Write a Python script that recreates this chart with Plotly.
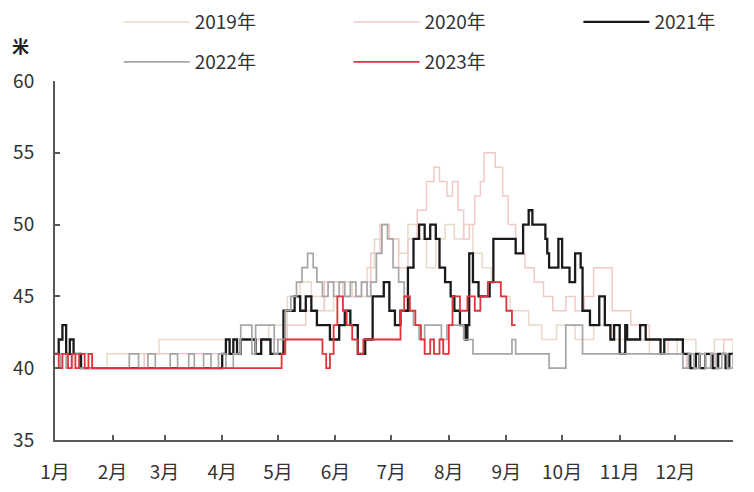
import plotly.graph_objects as go

# Day-of-year breakpoints (step lines), values in metres
d2019 = [0, 10, 28, 56, 92, 100, 115, 125, 132, 138, 145, 150, 160, 168, 172, 176, 180, 185, 190, 195, 200, 205, 210, 215, 220, 225, 230, 235, 240, 245, 255, 262, 270, 280, 290, 300, 320, 335, 345, 355, 365]
v2019 = [41, 40, 41, 42, 41, 42, 43, 45, 46, 45, 44, 46, 45, 47, 49, 50, 49, 48, 50, 49, 47, 49, 50, 49, 50, 48, 47, 46, 45, 44, 43, 42, 43, 42, 43, 42, 41, 42, 41, 42, 41]

d2020 = [0, 20, 48, 100, 125, 135, 145, 155, 165, 170, 175, 180, 185, 190, 195, 200, 204, 207, 211, 214, 217, 220, 223, 226, 229, 231, 237, 241, 244, 248, 253, 258, 263, 268, 275, 280, 285, 290, 297, 300, 305, 310, 320, 330, 340, 345, 350, 355, 360, 365]
v2020 = [41, 40, 41, 42, 43, 44, 46, 45, 46, 48, 50, 49, 47, 49, 51, 53, 54, 53, 52, 53, 51, 49, 50, 52, 53, 55, 54, 52, 50, 48, 47, 46, 45, 44, 45, 44, 45, 47, 47, 44, 44, 43, 42, 41, 40, 41, 40, 41, 42, 42]

d2021 = [0, 2, 4, 6, 8, 10, 14, 90, 92, 94, 96, 98, 100, 105, 108, 111, 116, 123, 129, 132, 135, 138, 141, 148, 153, 156, 159, 163, 167, 171, 177, 180, 183, 186, 190, 193, 196, 199, 202, 205, 207, 210, 213, 215, 218, 221, 222, 223, 225, 228, 234, 236, 248, 252, 255, 257, 264, 265, 266, 271, 273, 277, 280, 283, 284, 288, 293, 296, 299, 301, 304, 307, 308, 315, 318, 326, 328, 335, 338, 342, 345, 347, 350, 354, 357, 361, 363, 365]
v2021 = [41, 42, 43, 41, 42, 41, 40, 41, 42, 41, 42, 41, 42, 42, 41, 42, 41, 44, 45, 44, 45, 44, 43, 42, 43, 44, 43, 41, 42, 45, 46, 44, 43, 44, 47, 49, 50, 49, 50, 49, 47, 46, 45, 44, 43, 42, 43, 48, 46, 45, 46, 49, 48, 50, 51, 50, 49, 48, 47, 49, 47, 46, 48, 47, 44, 43, 45, 43, 42, 43, 41, 43, 42, 43, 42, 41, 42, 42, 41, 40, 41, 40, 41, 40, 41, 40, 41, 41]

d2022 = [0, 3, 6, 9, 13, 38, 40, 45, 50, 54, 62, 66, 72, 75, 80, 84, 88, 92, 96, 100, 106, 108, 116, 118, 120, 124, 127, 130, 133, 136, 139, 141, 144, 147, 150, 153, 156, 159, 162, 165, 168, 170, 173, 176, 179, 182, 185, 188, 191, 193, 196, 199, 204, 208, 211, 216, 220, 225, 246, 248, 266, 275, 284, 338, 341, 344, 347, 350, 353, 356, 359, 362, 365]
v2022 = [40, 41, 40, 41, 40, 40, 41, 40, 41, 40, 41, 40, 41, 40, 41, 40, 41, 40, 41, 43, 41, 43, 43, 41, 42, 44, 45, 46, 47, 48, 47, 46, 45, 46, 45, 46, 45, 46, 45, 46, 45, 46, 48, 50, 49, 47, 46, 45, 44, 43, 42, 43, 43, 42, 43, 43, 42, 41, 42, 41, 40, 43, 41, 40, 41, 40, 41, 40, 41, 40, 41, 40, 41]

d2023 = [0, 2, 4, 7, 9, 11, 13, 16, 18, 20, 122, 124, 144, 146, 148, 150, 152, 155, 157, 160, 163, 166, 186, 188, 191, 194, 197, 199, 202, 204, 207, 209, 212, 214, 218, 222, 226, 229, 233, 240, 243, 246, 248]
v2023 = [41, 40, 41, 40, 41, 40, 41, 40, 41, 40, 41, 42, 41, 40, 41, 43, 45, 44, 43, 42, 41, 42, 44, 45, 44, 43, 42, 41, 42, 41, 42, 41, 43, 45, 44, 45, 44, 45, 46, 45, 44, 43, 43]

month_labels = ["1月", "2月", "3月", "4月", "5月", "6月", "7月", "8月", "9月", "10月", "11月", "12月", ""]
month_starts = [0, 31, 59, 90, 120, 151, 181, 212, 243, 273, 304, 334, 365]

series = [
    ("2019年", d2019, v2019, "#e8dac6", 1.5),
    ("2020年", d2020, v2020, "#f2c9c9", 1.5),
    ("2021年", d2021, v2021, "#1a1a1a", 2.3),
    ("2022年", d2022, v2022, "#a6a6a6", 1.7),
    ("2023年", d2023, v2023, "#e2323c", 1.8),
]
# legend slots (one legend per entry, 3 + 2 grid)
legend_pos = [(0.094, 1.164), (0.433, 1.164), (0.772, 1.164), (0.094, 1.053), (0.433, 1.053)]
legend_ids = ["legend", "legend2", "legend3", "legend4", "legend5"]

fig = go.Figure()
for (name, d, v, color, w), lg in zip(series, legend_ids):
    fig.add_trace(go.Scatter(x=d, y=v, name=name, mode="lines",
                             line=dict(color=color, width=w, shape="hv"),
                             legend=lg))

font_family = "Noto Sans CJK SC, Noto Sans, sans-serif"
axis_color = "#595959"
fs = 19

legend_common = dict(orientation="h", itemwidth=66,
                     font=dict(family=font_family, size=fs, color="#333333"),
                     bgcolor="rgba(0,0,0,0)", xanchor="left", yanchor="middle")
legends = {lid: dict(x=px, y=py, **legend_common) for lid, (px, py) in zip(legend_ids, legend_pos)}

fig.update_layout(
    width=754, height=492,
    margin=dict(l=47, r=29, t=73, b=60, autoexpand=False),
    paper_bgcolor="white", plot_bgcolor="white",
    font=dict(family=font_family, size=fs, color="#333333"),
    xaxis=dict(range=[0, 365], tickvals=month_starts, ticktext=month_labels,
               showline=True, linecolor=axis_color, linewidth=2,
               ticks="inside", ticklen=5, tickcolor=axis_color, tickwidth=1.5,
               showgrid=False, zeroline=False, ticklabelstandoff=14,
               tickfont=dict(size=fs, color="#333333")),
    yaxis=dict(range=[35, 60], dtick=5, tick0=35,
               showline=True, linecolor=axis_color, linewidth=2,
               ticks="inside", ticklen=5, tickcolor=axis_color, tickwidth=1.5,
               showgrid=False, zeroline=False, ticklabelstandoff=15,
               tickfont=dict(size=fs, color="#333333")),
    annotations=[dict(text="<b>米</b>", x=2, y=1.10, xref="paper", yref="paper",
                      xshift=0, showarrow=False, xanchor="left", yanchor="middle",
                      font=dict(size=17, color="#222222"))],
    showlegend=True,
    **legends,
)
# place the unit label just inside the left edge of the figure
fig.layout.annotations[0].x = -(47 - 2) / 678

fig.write_html("out.html")
